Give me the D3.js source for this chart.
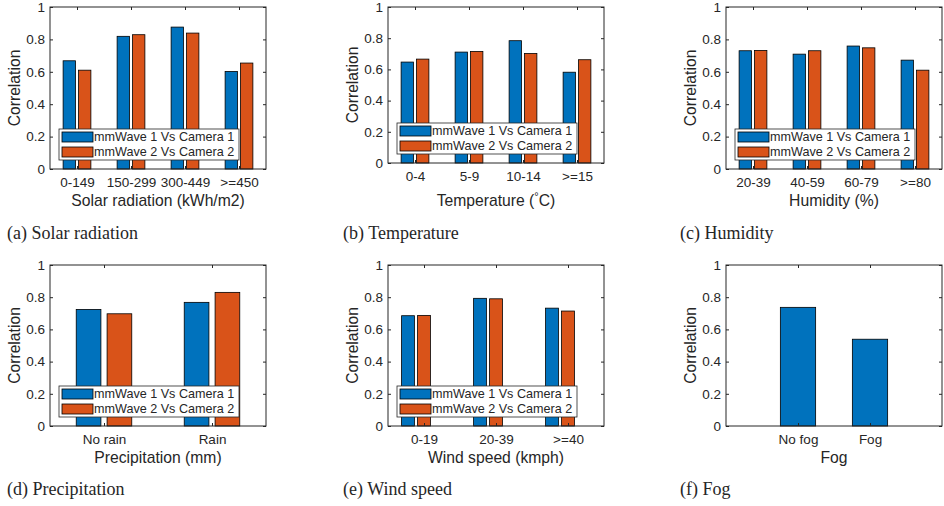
<!DOCTYPE html>
<html>
<head>
<meta charset="utf-8">
<script src="https://cdn.jsdelivr.net/npm/d3@7"></script>
<style>
  body { margin: 0; background: #fff; }
  svg text { fill: #262626; }
</style>
</head>
<body>
<svg id="fig" width="944" height="506"></svg>
<script>
// values
var yTicks = [0, 0.2, 0.4, 0.6, 0.8, 1];
var seriesNames = ["mmWave 1 Vs Camera 1", "mmWave 2 Vs Camera 2"];
var seriesColors = ["#0072BD", "#D95319", "#EDB120"];

var solarCats = ["0-149", "150-299", "300-449", ">=450"];
var solarCam1 = [0.668, 0.819, 0.876, 0.602];
var solarCam2 = [0.610, 0.829, 0.839, 0.654];

var tempCats = ["0-4", "5-9", "10-14", ">=15"];
var tempCam1 = [0.647, 0.711, 0.784, 0.582];
var tempCam2 = [0.666, 0.715, 0.702, 0.662];

var humidCats = ["20-39", "40-59", "60-79", ">=80"];
var humidCam1 = [0.730, 0.709, 0.759, 0.672];
var humidCam2 = [0.732, 0.730, 0.748, 0.610];

var rainCats = ["No rain", "Rain"];
var rainCam1 = [0.724, 0.768];
var rainCam2 = [0.697, 0.830];

var windCats = ["0-19", "20-39", ">=40"];
var windCam1 = [0.685, 0.793, 0.732];
var windCam2 = [0.687, 0.790, 0.714];
var windCam3 = [0, 0, 0];

var fogCats = ["No fog", "Fog"];
var fogCam1 = [0.737, 0.539];

// panel table (built from the arrays above)
var panels = [
  {cats: solarCats, series: [solarCam1, solarCam2], xlabel: "Solar radiation (kWh/m2)", caption: "(a) Solar radiation", legend: true},
  {cats: tempCats, series: [tempCam1, tempCam2], xlabel: "Temperature", caption: "(b) Temperature", legend: true, degree: true},
  {cats: humidCats, series: [humidCam1, humidCam2], xlabel: "Humidity (%)", caption: "(c) Humidity", legend: true},
  {cats: rainCats, series: [rainCam1, rainCam2], xlabel: "Precipitation (mm)", caption: "(d) Precipitation", legend: true},
  {cats: windCats, series: [windCam1, windCam2, windCam3], xlabel: "Wind speed (kmph)", caption: "(e) Wind speed", legend: true},
  {cats: fogCats, series: [fogCam1], xlabel: "Fog", caption: "(f) Fog", legend: false, single: true}
];

// where each axes box sits
var boxes = [
  {l: 50, r: 266, t: 7, b: 169, labDy: 31, capX: 7, capY: 239},
  {l: 388, r: 604, t: 7, b: 163, labDy: 37, capX: 343, capY: 239},
  {l: 726, r: 942, t: 7, b: 169, labDy: 31, capX: 680, capY: 239},
  {l: 50, r: 266, t: 265, b: 426, labDy: 31, capX: 7, capY: 495},
  {l: 388, r: 604, t: 265, b: 426, labDy: 31, capX: 343, capY: 495},
  {l: 726, r: 942, t: 265, b: 426, labDy: 31, capX: 680, capY: 495}
];

var svg = d3.select("#fig");
var sans = "'Liberation Sans', Arial, sans-serif";
var axisCol = "#262626";

panels.forEach(function (p, idx) {
  var bx = boxes[idx];
  var n = p.cats.length;
  var m = p.series.length;
  var g = svg.append("g");

  var xlim = p.single ? [0, n + 1] : [0.5, n + 0.5];
  var x = d3.scaleLinear().domain(xlim).range([bx.l, bx.r]);
  var y = d3.scaleLinear().domain([0, 1]).range([bx.b, bx.t]);

  // matlab grouped bar geometry
  var gw = p.single ? 1 : Math.min(0.8, m / (m + 1.5));
  var bw = p.single ? 0.49 : gw / m * 0.8;

  p.series.forEach(function (vals, k) {
    var off = p.single ? 0 : (k - (m - 1) / 2) * gw / m;
    g.selectAll(null).data(vals).enter().append("rect")
      .attr("x", function (d, i) { return x(i + 1 + off - bw / 2); })
      .attr("y", function (d) { return y(d); })
      .attr("width", x(xlim[0] + bw) - x(xlim[0]))
      .attr("height", function (d) { return y(0) - y(d); })
      .attr("fill", seriesColors[k])
      .attr("stroke", "#000")
      .attr("stroke-width", 0.8);
  });

  var xt = d3.range(1, n + 1);
  var fmtY = function (d) { return d === 0 || d === 1 ? String(d) : d.toFixed(1); };

  var ax = [
    g.append("g").attr("transform", "translate(" + bx.l + ",0)")
      .call(d3.axisLeft(y).tickValues(yTicks).tickFormat(fmtY).tickSizeInner(-3).tickSizeOuter(0).tickPadding(5)),
    g.append("g").attr("transform", "translate(" + bx.r + ",0)")
      .call(d3.axisRight(y).tickValues(yTicks).tickFormat("").tickSizeInner(-3).tickSizeOuter(0)),
    g.append("g").attr("transform", "translate(0," + bx.b + ")")
      .call(d3.axisBottom(x).tickValues(xt).tickFormat(function (d) { return p.cats[d - 1]; }).tickSizeInner(-3).tickSizeOuter(0).tickPadding(8)),
    g.append("g").attr("transform", "translate(0," + bx.t + ")")
      .call(d3.axisTop(x).tickValues(xt).tickFormat("").tickSizeInner(-3).tickSizeOuter(0))
  ];
  ax.forEach(function (a) {
    a.select(".domain").remove();
    a.selectAll("line").attr("stroke", axisCol);
    a.selectAll("text").style("font-family", sans).style("font-size", "13.5px").attr("fill", axisCol);
  });

  g.append("rect")
    .attr("x", bx.l).attr("y", bx.t)
    .attr("width", bx.r - bx.l).attr("height", bx.b - bx.t)
    .attr("fill", "none").attr("stroke", axisCol).attr("stroke-width", 1);

  // y label
  g.append("text")
    .attr("transform", "translate(" + (bx.l - 30) + "," + ((bx.t + bx.b) / 2) + ") rotate(-90)")
    .attr("text-anchor", "middle")
    .style("font-family", sans).style("font-size", "15.7px")
    .text("Correlation");

  // x label
  var xl = g.append("text")
    .attr("x", (bx.l + bx.r) / 2).attr("y", bx.b + bx.labDy + 5.5)
    .attr("text-anchor", "middle")
    .style("font-family", sans).style("font-size", "15.7px")
    .text(p.xlabel);
  if (p.degree) {
    xl.append("tspan").text(" (");
    xl.append("tspan").attr("dy", -6).style("font-size", "11px").text("\u00B0");
    xl.append("tspan").attr("dy", 6).text("C)");
  }

  if (p.legend) {
    var lw = 180, lh = 31;
    var lx = bx.l + 9, ly = bx.b - 9 - lh;
    var lg = g.append("g").attr("transform", "translate(" + lx + "," + ly + ")");
    lg.append("rect").attr("width", lw).attr("height", lh)
      .attr("fill", "#fff").attr("stroke", axisCol).attr("stroke-width", 0.8);
    seriesNames.forEach(function (s, k) {
      var cy = 8 + k * 15;
      lg.append("rect").attr("x", 3).attr("y", cy - 5).attr("width", 31).attr("height", 10)
        .attr("fill", seriesColors[k]).attr("stroke", "#000").attr("stroke-width", 0.8);
      lg.append("text").attr("x", 35).attr("y", cy).attr("dy", "0.35em")
        .style("font-family", sans).style("font-size", "12.6px")
        .text(s);
    });
  }

  svg.append("text")
    .attr("x", bx.capX).attr("y", bx.capY)
    .style("font-family", "'Liberation Serif', 'Times New Roman', serif").style("font-size", "18px")
    .text(p.caption);
});
</script>
</body>
</html>
